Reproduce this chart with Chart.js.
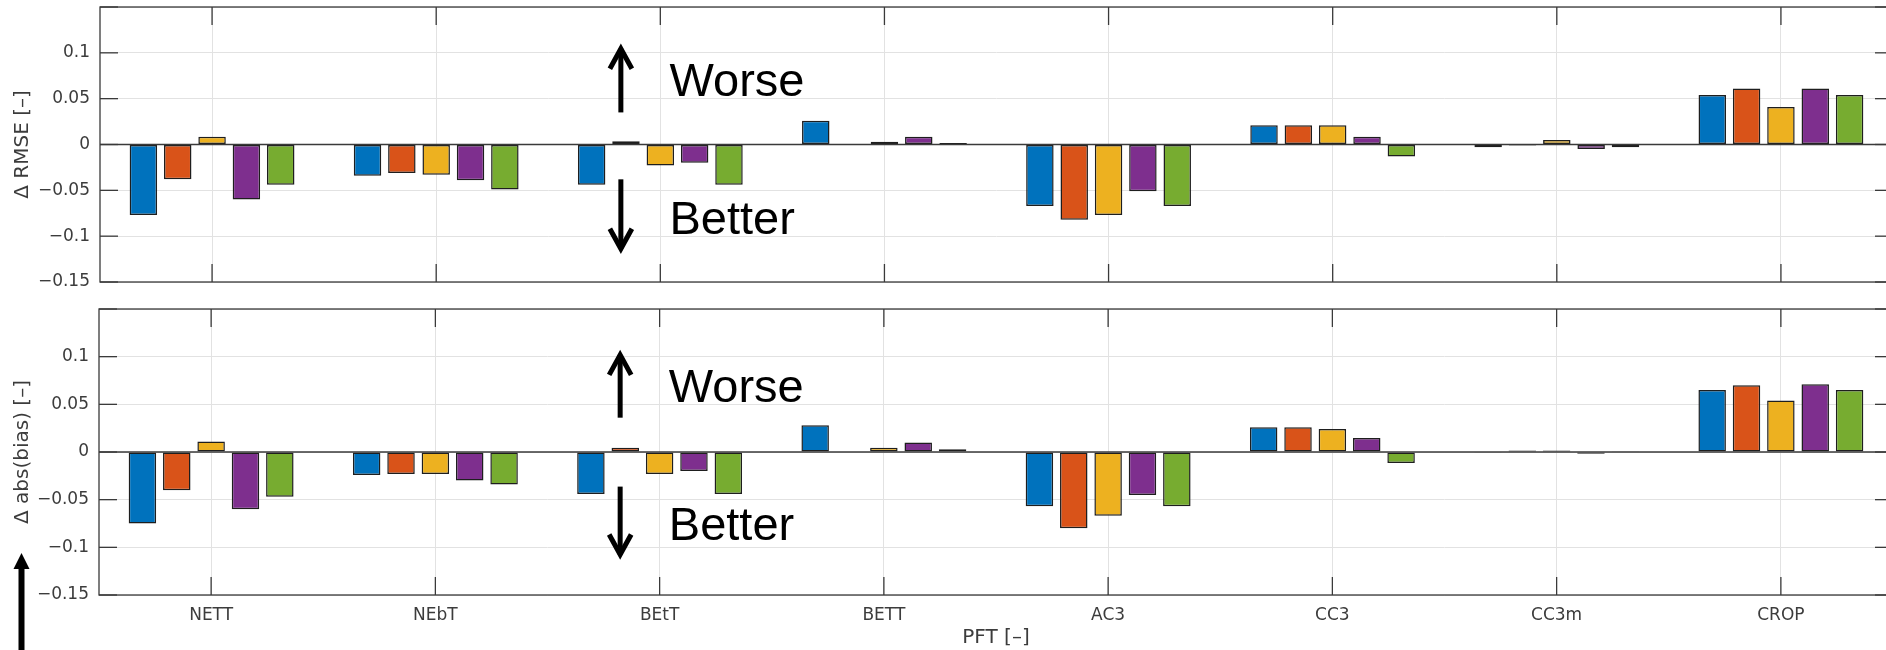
<!DOCTYPE html>
<html>
<head>
<meta charset="utf-8">
<script src="https://cdn.jsdelivr.net/npm/chart.js@4/dist/chart.umd.min.js"></script>
<style>
  html, body { margin: 0; padding: 0; background: #fff; overflow: hidden; width: 1886px; height: 650px; }
  #rmseChart { position: absolute; left: 0; top: 0; }
  #biasChart { position: absolute; left: 0; top: 300px; }
</style>
</head>
<body>
<canvas id="rmseChart" width="1900" height="300"></canvas>
<canvas id="biasChart" width="1900" height="350"></canvas>
<script>
// Plant functional types on the x axis
const categories = ['NETT', 'NEbT', 'BEtT', 'BETT', 'AC3', 'CC3', 'CC3m', 'CROP'];

// Change in RMSE per PFT, one array per experiment
const rmseExp1 = [-0.077, -0.034, -0.044, 0.026, -0.067, 0.021, -0.003, 0.054];
const rmseExp2 = [-0.038, -0.031, 0.0035, 0.0, -0.082, 0.021, -0.0012, 0.061];
const rmseExp3 = [0.0085, -0.033, -0.023, 0.003, -0.077, 0.021, 0.005, 0.041];
const rmseExp4 = [-0.060, -0.039, -0.020, 0.0085, -0.051, 0.0085, -0.005, 0.061];
const rmseExp5 = [-0.044, -0.049, -0.044, 0.0017, -0.067, -0.013, -0.003, 0.054];

// Change in absolute bias per PFT, one array per experiment
const biasExp1 = [-0.075, -0.024, -0.044, 0.028, -0.057, 0.026, -0.0003, 0.065];
const biasExp2 = [-0.040, -0.023, 0.0045, 0.0, -0.080, 0.026, 0.0017, 0.070];
const biasExp3 = [0.011, -0.023, -0.023, 0.0045, -0.067, 0.024, 0.0015, 0.054];
const biasExp4 = [-0.060, -0.030, -0.020, 0.010, -0.045, 0.0147, -0.0018, 0.071];
const biasExp5 = [-0.047, -0.034, -0.044, 0.0028, -0.057, -0.0115, 0.0003, 0.065];

// Y axis range and tick spacing shared by both panels
const yMin = -0.15;
const yMax = 0.15;
const yStep = 0.05;

const seriesColors = ['#0072BD', '#D95319', '#EDB120', '#7E2F8E', '#77AC30'];
const axisColor = '#3a3a3a';
const textColor = '#3c3c3c';
const tickFont = { family: '"DejaVu Sans", sans-serif', size: 17 };
const titleFont = { family: '"DejaVu Sans", sans-serif', size: 20 };

function makeDatasets(arrays) {
  return arrays.map((vals, i) => ({
    label: 'Exp ' + (i + 1),
    data: vals,
    backgroundColor: seriesColors[i],
    borderColor: '#1e1e1e',
    borderWidth: 1.5,
    borderSkipped: false,
    categoryPercentage: 0.766,
    barPercentage: 0.8
  }));
}

function fmtTick(v) {
  const r = Math.round(v * 100) / 100;
  if (r >= yMax - 1e-9) return '';
  return String(r).replace('-', '\u2212');
}

// Box, zero baseline and inward tick marks
const framePlugin = {
  id: 'frame',
  afterDraw(chart) {
    const { ctx, chartArea: a, scales: { x, y } } = chart;
    ctx.save();
    ctx.strokeStyle = axisColor;
    ctx.lineWidth = 1.3;
    const seg = (x1, y1, x2, y2) => { ctx.beginPath(); ctx.moveTo(x1, y1); ctx.lineTo(x2, y2); ctx.stroke(); };
    ctx.strokeRect(a.left, a.top, a.right - a.left, a.bottom - a.top);
    const y0 = y.getPixelForValue(0);
    seg(a.left, y0, a.right, y0);
    const tl = 18;
    y.ticks.forEach(t => {
      const py = y.getPixelForValue(t.value);
      seg(a.left, py, a.left + tl, py);
      seg(a.right, py, a.right - tl, py);
    });
    x.ticks.forEach((t, i) => {
      const px = x.getPixelForValue(i);
      seg(px, a.bottom, px, a.bottom - tl);
      seg(px, a.top, px, a.top + tl);
    });
    ctx.restore();
  }
};

// "Worse" / "Better" arrows with captions
const notePlugin = {
  id: 'note',
  afterDraw(chart, args, opts) {
    if (!opts || !opts.show) return;
    const { ctx, scales: { x, y } } = chart;
    ctx.save();
    ctx.strokeStyle = '#000';
    ctx.fillStyle = '#000';
    ctx.lineWidth = 5;
    ctx.lineJoin = 'miter';
    ctx.lineCap = 'butt';
    const ax = x.getPixelForValue(opts.arrowX);
    const drawArrow = (tailV, tipV) => {
      const tail = y.getPixelForValue(tailV);
      const tip = y.getPixelForValue(tipV);
      const dir = tail > tip ? 1 : -1;
      ctx.beginPath(); ctx.moveTo(ax, tail); ctx.lineTo(ax, tip + dir * 2); ctx.stroke();
      ctx.beginPath();
      ctx.moveTo(ax - 11, tip + dir * 22);
      ctx.lineTo(ax, tip + dir * 2);
      ctx.lineTo(ax + 11, tip + dir * 22);
      ctx.stroke();
    };
    drawArrow(opts.upTail, opts.upTip);
    drawArrow(opts.downTail, opts.downTip);
    ctx.font = '47px "Liberation Sans", Arial, sans-serif';
    ctx.textBaseline = 'alphabetic';
    ctx.textAlign = 'left';
    const tx = x.getPixelForValue(opts.textX);
    ctx.fillText('Worse', tx, y.getPixelForValue(opts.worseY));
    ctx.fillText('Better', tx, y.getPixelForValue(opts.betterY));
    if (opts.sideArrow) {
      const sx = 21.5, tipY = chart.chartArea.top + 244;
      ctx.beginPath();
      ctx.moveTo(sx, tipY);
      ctx.lineTo(sx - 8, tipY + 16);
      ctx.lineTo(sx + 8, tipY + 16);
      ctx.closePath();
      ctx.fill();
      ctx.fillRect(sx - 3, tipY + 14, 6, chart.height - tipY);
    }
    ctx.restore();
  }
};

function makeChart(id, arrays, yTitle, opts) {
  return new Chart(document.getElementById(id), {
    type: 'bar',
    data: { labels: categories, datasets: makeDatasets(arrays) },
    plugins: [framePlugin, notePlugin],
    options: {
      responsive: false,
      animation: false,
      layout: { padding: { top: opts.padTop, right: 7, left: 0, bottom: 0 } },
      plugins: {
        legend: { display: false },
        tooltip: { enabled: false },
        note: opts.note
      },
      scales: {
        x: {
          grid: { offset: false, color: '#e2e2e2', lineWidth: 1, drawTicks: false },
          border: { display: false },
          ticks: { display: opts.showX, font: tickFont, color: textColor, padding: 10, maxRotation: 0, autoSkip: false },
          title: { display: opts.showX, text: 'PFT [\u2013]', font: titleFont, color: textColor, padding: { top: 0, bottom: 0 } },
          afterFit(s) { s.height = opts.xHeight; s.paddingLeft = 0; s.paddingRight = 0; }
        },
        y: {
          min: yMin,
          max: yMax,
          grid: { color: '#e2e2e2', lineWidth: 1, drawTicks: false },
          border: { display: false },
          ticks: { stepSize: yStep, font: tickFont, color: textColor, padding: 10, callback: fmtTick },
          title: { display: true, text: yTitle, font: titleFont, color: textColor, padding: { top: 11, bottom: 0 } },
          afterFit(s) { s.width = opts.yWidth; s.paddingTop = 0; s.paddingBottom = 0; }
        }
      }
    }
  });
}

makeChart('rmseChart', [rmseExp1, rmseExp2, rmseExp3, rmseExp4, rmseExp5], '\u0394 RMSE [\u2013]', {
  padTop: 7, xHeight: 18, yWidth: 100, showX: false,
  note: { show: true, arrowX: 1.824, textX: 2.041, upTail: 0.035, upTip: 0.1067, downTail: -0.038, downTip: -0.1159, worseY: 0.0524, betterY: -0.0977 }
});

makeChart('biasChart', [biasExp1, biasExp2, biasExp3, biasExp4, biasExp5], '\u0394 abs(bias) [\u2013]', {
  padTop: 9, xHeight: 55, yWidth: 99, showX: true,
  note: { show: true, arrowX: 1.824, textX: 2.041, upTail: 0.036, upTip: 0.104, downTail: -0.0363, downTip: -0.1096, worseY: 0.0527, betterY: -0.0928, sideArrow: true }
});
</script>
</body>
</html>
